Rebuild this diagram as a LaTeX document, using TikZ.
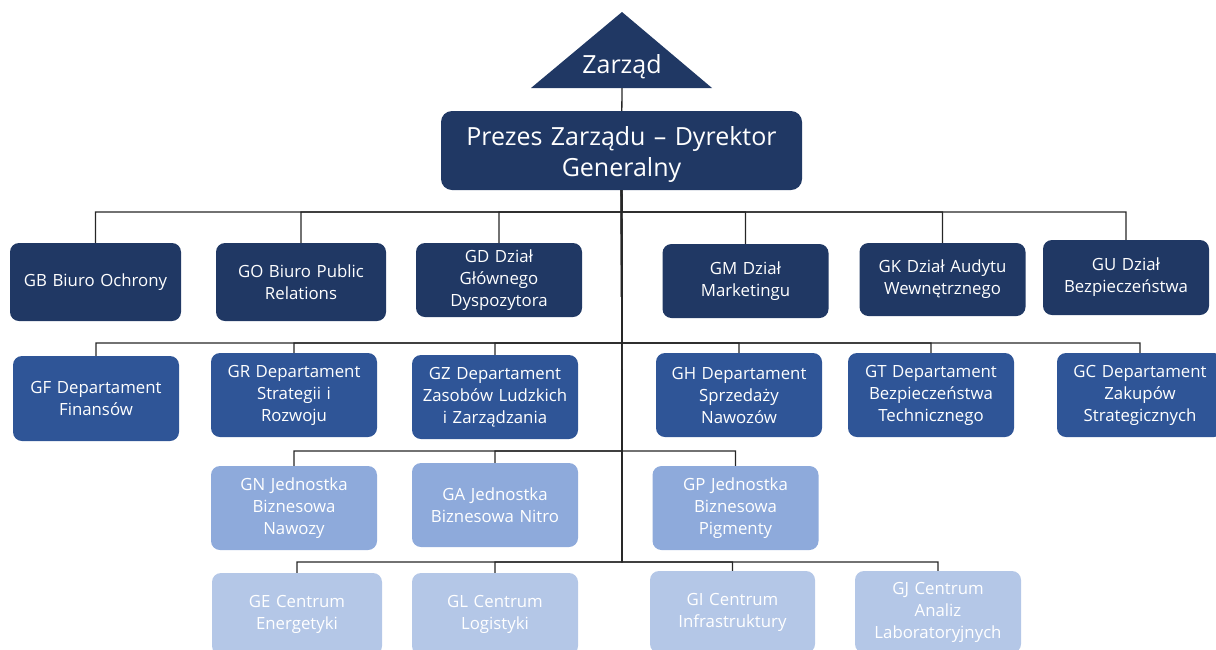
\documentclass[tikz,border=0pt]{standalone}
\usepackage{fontspec}
\setmainfont{Open Sans}
\usepackage{tikz}
\definecolor{navy}{RGB}{32,56,100}
\definecolor{midblue}{RGB}{47,85,151}
\definecolor{lightblue}{RGB}{142,170,219}
\definecolor{paleblue}{RGB}{180,199,231}
\tikzstyle{unit} = [rectangle, rounded corners=9pt, minimum width=166pt, minimum height=78pt, text width=160pt, align=center, text=white, inner sep=0pt, font=\fontsize{16.8}{22}\selectfont]
\tikzstyle{board} = [unit, fill=navy]
\tikzstyle{dept} = [unit, fill=midblue]
\tikzstyle{bizunit} = [unit, fill=lightblue]
\tikzstyle{centre} = [unit, fill=paleblue]
\tikzstyle{line} = [line width=1.3pt, black!85]

\begin{document}
\begin{tikzpicture}[x=1pt, y=-1pt]
		\useasboundingbox (0,0) rectangle (1216,649);
		\clip (0,0) rectangle (1216,649);
		% top
		\fill [navy] (531,88) -- (622,12) -- (712,88) -- cycle;
		\node (zarzad) at (622,67) [text=white, font=\fontsize{25}{28}\selectfont] {Zarząd};
		\coordinate (zbase) at (622,88);
		\node (prezes) at (621.5,150.5) [board, minimum width=361pt, minimum height=79pt, text width=350pt, rounded corners=11pt, font=\fontsize{25}{31}\selectfont] {\rule{0pt}{26pt}Prezes Zarządu – Dyrektor\\Generalny};
		
		\coordinate (bus1) at (622,212);
		\coordinate (bus2) at (622,343);
		\coordinate (bus3) at (622,451);
		\coordinate (bus4) at (622,562);
		
		% row 1
		\node (gb) at (95.5,282) [board, minimum width=171pt] {GB Biuro Ochrony};
		\node (go) at (301,282) [board, minimum width=170pt] {GO Biuro Public\\Relations};
		\node (gd) at (499,280) [board, minimum height=74pt] {GD Dział\\Głównego\\Dyspozytora};
		\node (gm) at (745.5,281) [board, minimum height=74pt] {GM Dział\\Marketingu};
		\node (gk) at (942.5,279.5) [board, minimum height=73pt] {GK Dział Audytu\\Wewnętrznego};
		\node (gu) at (1126,277.5) [board, minimum height=75pt] {GU Dział\\Bezpieczeństwa};
		
		% row 2
		\node (gf) at (96,398.5) [dept, minimum height=85pt] {GF Departament\\Finansów};
		\node (gr) at (294,395) [dept, minimum height=84pt] {GR Departament\\Strategii i\\Rozwoju};
		\node (gz) at (495,397) [dept, minimum height=84pt] {GZ Departament\\Zasobów Ludzkich\\i Zarządzania};
		\node (gh) at (739,395) [dept, minimum height=84pt] {GH Departament\\Sprzedaży\\Nawozów};
		\node (gt) at (931,395) [dept, minimum height=84pt] {GT Departament\\Bezpieczeństwa\\Technicznego};
		\node (gc) at (1140,395) [dept, minimum height=84pt] {GC Departament\\Zakupów\\Strategicznych};
		
		% row 3
		\node (gn) at (294,508) [bizunit, minimum height=84pt] {GN Jednostka\\Biznesowa\\Nawozy};
		\node (ga) at (495,505) [bizunit, minimum height=84pt] {GA Jednostka\\Biznesowa Nitro};
		\node (gp) at (735.5,508) [bizunit, minimum height=84pt] {GP Jednostka\\Biznesowa\\Pigmenty};
		
		% row 4
		\node (ge) at (297,614) [centre, minimum width=170pt, minimum height=82pt] {GE Centrum\\Energetyki};
		\node (gl) at (495,614) [centre, minimum height=82pt] {GL Centrum\\Logistyki};
		\node (gi) at (732.5,612) [centre, minimum width=165pt, minimum height=82pt] {GI Centrum\\Infrastruktury};
		\node (gj) at (938,612) [centre, minimum height=82pt] {GJ Centrum\\Analiz\\Laboratoryjnych};
		
		% connectors
		\draw [line] (zbase) -- (prezes);
		\foreach \n in {gb,go,gd,gm,gk,gu}
			\draw [line] (prezes.south) -- (bus1) -| (\n.north);
		\foreach \n in {gf,gr,gz,gh,gt,gc}
			\draw [line] (prezes.south) -- (bus2) -| (\n.north);
		\foreach \n in {gn,ga,gp}
			\draw [line] (prezes.south) -- (bus3) -| (\n.north);
		\foreach \n in {ge,gl,gi,gj}
			\draw [line] (prezes.south) -- (bus4) -| (\n.north);
\end{tikzpicture}
\end{document}
